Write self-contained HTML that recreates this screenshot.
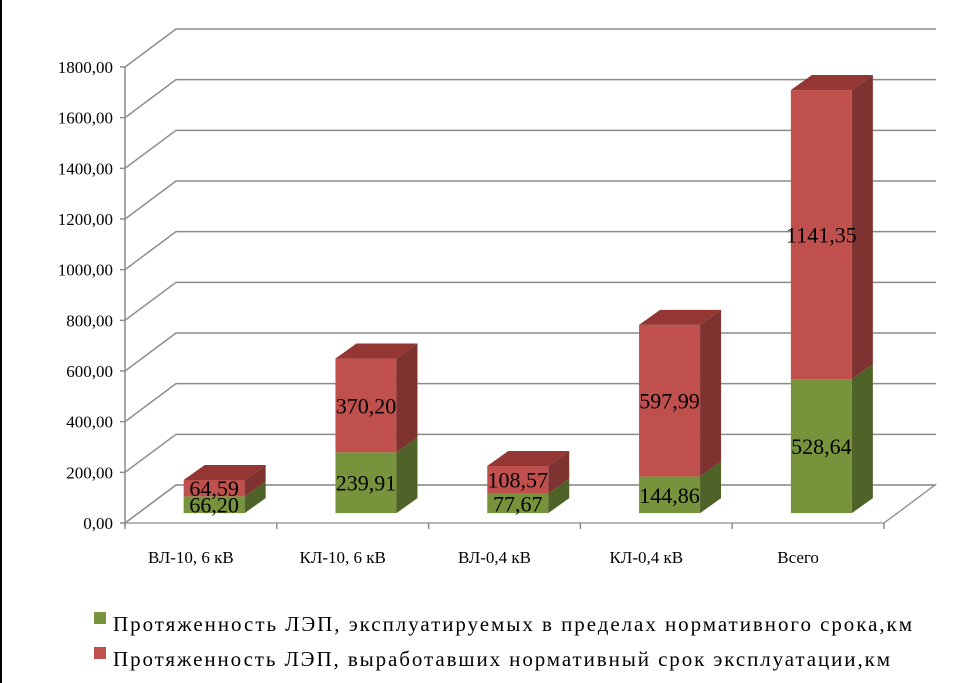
<!DOCTYPE html>
<html><head><meta charset="utf-8"><style>
body{margin:0;background:#fff}
svg{display:block;font-family:"Liberation Serif",serif}
</style></head><body>
<svg id="c" width="976" height="683">
<rect x="0" y="0" width="2" height="683" fill="#000"/>
<g id="grid"></g><g id="bars"></g><g id="lbls"></g>
<g>
<rect x="94" y="612" width="12" height="12" fill="#77933C"/>
<text x="113" y="631" font-size="21" textLength="799">Протяженность ЛЭП, эксплуатируемых в пределах нормативного срока,км</text>
<rect x="94" y="647" width="12" height="12" fill="#C0504D"/>
<text x="113" y="666" font-size="21" textLength="777">Протяженность ЛЭП, выработавших нормативный срок эксплуатации,км</text>
</g>
</svg>
<script>
const categories=["ВЛ-10, 6 кВ","КЛ-10, 6 кВ","ВЛ-0,4 кВ","КЛ-0,4 кВ","Всего"];
const seriesGreen=[66.20,239.91,77.67,144.86,528.64];
const seriesRed=[64.59,370.20,108.57,597.99,1141.35];
const greenLabels=["66,20","239,91","77,67","144,86","528,64"];
const redLabels=["64,59","370,20","108,57","597,99","1141,35"];
const yTicks=[0,200,400,600,800,1000,1200,1400,1600,1800];
const yTickLabels=["0,00","200,00","400,00","600,00","800,00","1000,00","1200,00","1400,00","1600,00","1800,00"];
const NS="http://www.w3.org/2000/svg";
const X0=125,Y0=523,W=759,DX=51,DY=38,K=(523-67)/1800;
const y=v=>Y0-v*K;
const band=W/categories.length;
function el(p,t,a){const e=document.createElementNS(NS,t);for(const k in a)e.setAttribute(k,a[k]);p.appendChild(e);return e;}
const grid=document.getElementById('grid'),bars=document.getElementById('bars'),lbls=document.getElementById('lbls');
const G="#8c8c8c";
// floor
let fl=el(grid,'polygon',{points:`${X0},${Y0} ${X0+DX},${Y0-DY} ${X0+W+DX},${Y0-DY} ${X0+W},${Y0}`,fill:"none",stroke:G,"stroke-width":1.3});

yTicks.forEach((t,i)=>{
  const yy=y(t);
  const g=el(grid,'polyline',{points:`${X0},${yy} ${X0+DX},${yy-DY} ${X0+W+DX+1},${yy-DY}`,fill:"none",stroke:G,"stroke-width":1.5});
  
  el(grid,'line',{x1:X0-5,y1:yy,x2:X0,y2:yy,stroke:G,"stroke-width":1.5});
  const tx=el(grid,'text',{x:113,y:yy+6,"font-size":17,"text-anchor":"end"});
  tx.textContent=yTickLabels[i];
  
});
const ax=el(grid,'line',{x1:X0,y1:y(1800),x2:X0,y2:Y0+3,stroke:G,"stroke-width":1.5});

for(let i=0;i<=categories.length;i++){el(grid,'line',{x1:X0+band*i,y1:Y0,x2:X0+band*i,y2:Y0+6,stroke:G,"stroke-width":1.5});}
const fd=0.26,bw=61,sd=21,sdy=15;
function box(x,yb,yt,front,side,top,name){
  const g=el(bars,'g',{});
  
  el(g,'rect',{x:x,y:yt,width:bw,height:yb-yt,fill:front});
  el(g,'polygon',{points:`${x+bw},${yb} ${x+bw+sd},${yb-sdy} ${x+bw+sd},${yt-sdy} ${x+bw},${yt}`,fill:side});
  if(top) el(g,'polygon',{points:`${x},${yt} ${x+sd},${yt-sdy} ${x+bw+sd},${yt-sdy} ${x+bw},${yt}`,fill:top});
}
categories.forEach((c,i)=>{
  const cx=X0+band*(i+0.5)+DX*fd;
  const x=cx-bw/2,sh=DY*fd;
  const yb=y(0)-sh,yg=y(seriesGreen[i])-sh,yr=y(seriesGreen[i]+seriesRed[i])-sh;
  box(x,yb,yg,"#77933C","#4F6228",null,"bar-green-"+i);
  box(x,yg,yr,"#C0504D","#7F3331","#943634","bar-red-"+i);
  const t1=el(lbls,'text',{x:cx,y:(yb+yg)/2+8,"font-size":22,"text-anchor":"middle"});t1.textContent=greenLabels[i];
  
  const t2=el(lbls,'text',{x:cx,y:(yg+yr)/2+8,"font-size":22,"text-anchor":"middle"});t2.textContent=redLabels[i];
  
  const cl=el(lbls,'text',{x:X0+band*(i+0.5)-10,y:563,"font-size":17,"text-anchor":"middle"});cl.textContent=c;
  
});
</script>
</body></html>
